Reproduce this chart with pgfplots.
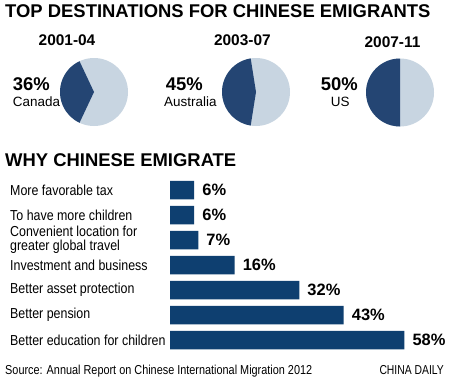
\documentclass[border=0pt]{standalone}
\usepackage{pgfplots}
\pgfplotsset{compat=1.18}
\usepackage{fontspec}
\setmainfont{Liberation Sans}
\newfontfamily\cond{Liberation Sans}[FakeStretch=0.86]
\newfontfamily\srcf{Liberation Sans}[FakeStretch=0.84]
\newfontfamily\brand{Liberation Sans}[FakeStretch=0.8]
\definecolor{barc}{HTML}{0E3F70}
\definecolor{piedark}{HTML}{244573}
\definecolor{pielight}{HTML}{C8D5E1}
\newcommand{\fs}[1]{\fontsize{#1}{#1}\selectfont}
% pie: center x, center y (px), share (%)
\newcommand{\pie}[3]{%
\pgfmathsetmacro\pa{180-1.8*#3}%
\pgfmathsetmacro\pb{180+1.8*#3}%
\begin{axis}[at={(#1bp,-#2bp)}, anchor=center, scale only axis,
  width=68bp, height=68bp, xmin=-1, xmax=1, ymin=-1, ymax=1,
  hide axis, clip=false]
\addplot[draw=none] coordinates {(0,0)};
\fill[pielight] (axis cs:0,0) circle[radius=34bp];
\fill[piedark] (axis cs:0,0) -- (axis cs:{cos(\pa)},{sin(\pa)})
   arc[start angle=\pa, end angle=\pb, radius=34bp] -- cycle;
\end{axis}}
\begin{document}
\begin{tikzpicture}
\useasboundingbox[fill=white] (0,0) rectangle (450bp,-379bp);
% titles
\node[anchor=base west, inner sep=0pt, font=\bfseries\fs{18.5}] at (5bp,-17.3bp) {TOP DESTINATIONS FOR CHINESE EMIGRANTS};
\node[anchor=base west, inner sep=0pt, font=\bfseries\fs{18.5}] at (5bp,-166.7bp) {WHY CHINESE EMIGRATE};
% pies
\pie{94}{92}{36}
\pie{256}{92}{45}
\pie{400}{92.5}{50}
\node[anchor=base, inner sep=0pt, font=\bfseries\fs{15.5}] at (67bp,-45bp) {2001-04};
\node[anchor=base, inner sep=0pt, font=\bfseries\fs{15.5}] at (242.4bp,-45bp) {2003-07};
\node[anchor=base, inner sep=0pt, font=\bfseries\fs{15.5}] at (392.5bp,-47.3bp) {2007-11};
\node[anchor=base west, inner sep=0pt, font=\bfseries\fs{18.5}] at (12.7bp,-90bp) {36\%};
\node[anchor=base west, inner sep=0pt, font=\fs{13.5}] at (12.7bp,-106bp) {Canada};
\node[anchor=base west, inner sep=0pt, font=\bfseries\fs{18.5}] at (165.7bp,-90bp) {45\%};
\node[anchor=base west, inner sep=0pt, font=\fs{13.5}] at (164bp,-106bp) {Australia};
\node[anchor=base west, inner sep=0pt, font=\bfseries\fs{18.5}] at (320.7bp,-90bp) {50\%};
\node[anchor=base west, inner sep=0pt, font=\fs{13.5}] at (330.7bp,-106bp) {US};
% bars
\begin{axis}[at={(170bp,-177.5bp)}, anchor=north west, scale only axis,
  width=282.8bp, height=175bp, xmin=0, xmax=70, ymin=-0.5, ymax=6.5,
  y dir=reverse, xbar, bar width=18.5bp, bar shift=0pt,
  axis line style={draw=none}, hide x axis,
  /pgf/number format/assume math mode=true,
  ytick={0,1,2,3,4,5,6}, major tick length=0pt, ytick style={draw=none},
  yticklabels={More favorable tax, To have more children,
    {Convenient location for\\greater global travel}, Investment and business,
    Better asset protection, Better pension, Better education for children},
  yticklabel style={font=\cond\fontsize{14.5}{13.8}\selectfont, anchor=west,
    align=left, inner sep=0pt, xshift=-160bp},
  point meta=x, nodes near coords={\pgfmathprintnumber[assume math mode=true]{\pgfplotspointmeta}\%},
  nodes near coords style={font=\bfseries\fs{16.5}, anchor=west, inner sep=0pt, xshift=8bp},
  clip=false]
\addplot[fill=barc, draw=none] table {
x y
6 0
6 1
7 2
16 3
32 4
43 5
58 6
};
\end{axis}
% source
\node[anchor=base west, inner sep=0pt, font=\srcf\fs{13}] at (5bp,-374.3bp) {Source: Annual Report on Chinese International Migration 2012};
\node[anchor=base east, inner sep=0pt, font=\brand\fs{13}] at (444bp,-374.3bp) {CHINA DAILY};
\end{tikzpicture}
\end{document}
